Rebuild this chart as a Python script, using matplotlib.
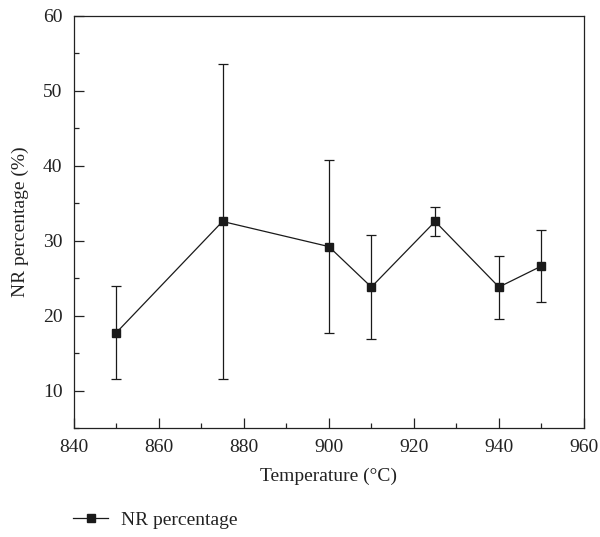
import matplotlib.pyplot as plt
from matplotlib.ticker import MultipleLocator

# NR percentage vs temperature, mean with standard deviation
temperature = [850, 875, 900, 910, 925, 940, 950]
nr_percentage = [17.7, 32.55, 29.2, 23.8, 32.55, 23.8, 26.6]
nr_error = [6.2, 21.0, 11.5, 6.9, 1.95, 4.2, 4.85]

plt.rcParams['font.family'] = ['Liberation Serif', 'DejaVu Serif']
ink = '#222222'

fig = plt.figure(figsize=(6, 5.37), dpi=100)
ax = fig.add_axes([0.1228, 0.203, 0.8505, 0.7678])

# error bars first, then the connecting line + markers (used for the legend)
ax.errorbar(temperature, nr_percentage, yerr=nr_error, fmt='none',
            ecolor='#1a1a1a', elinewidth=0.9, capsize=3.6, capthick=0.9)
ax.plot(temperature, nr_percentage, color='#1a1a1a', marker='s',
        markersize=5.5, linewidth=0.9, label='NR percentage')

ax.set_xlim(840, 960)
ax.set_ylim(5, 60)
ax.xaxis.set_major_locator(MultipleLocator(20))
ax.xaxis.set_minor_locator(MultipleLocator(10))
ax.yaxis.set_major_locator(MultipleLocator(10))
ax.yaxis.set_minor_locator(MultipleLocator(5))
ax.tick_params(which='both', direction='in', top=False, right=False,
               labelsize=14, colors=ink, width=0.9)
ax.tick_params(which='major', length=7, pad=8)
ax.tick_params(which='minor', length=3.6)
for s in ax.spines.values():
    s.set_linewidth(0.9)
    s.set_color(ink)

ax.set_xlabel('Temperature (°C)', fontsize=14, color=ink, labelpad=8)
ax.set_ylabel('NR percentage (%)', fontsize=14, color=ink, labelpad=10)

ax.legend(loc='upper left', bbox_to_anchor=(-0.035, -0.16), frameon=False,
          fontsize=14, handlelength=1.8, handletextpad=0.65, labelcolor=ink)

fig.savefig('out.png', dpi=100)
